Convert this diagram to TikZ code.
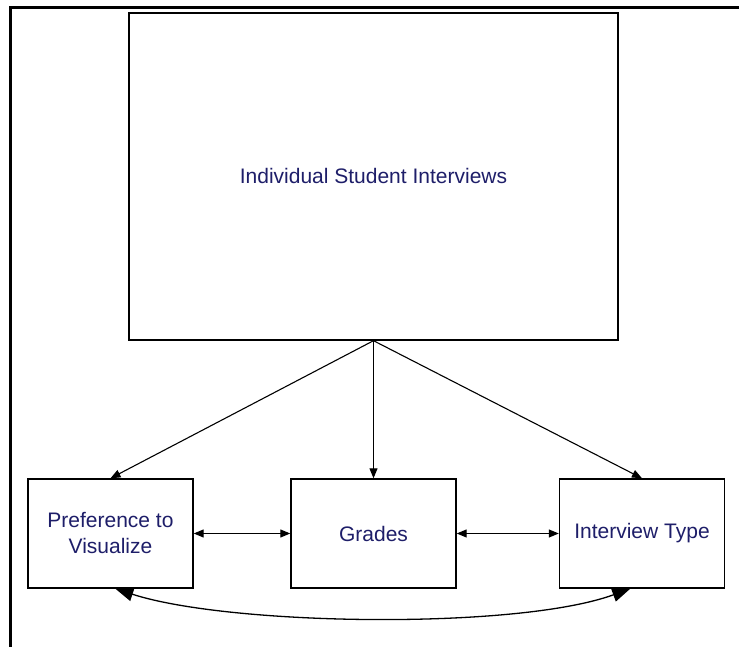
\documentclass[tikz,border=0pt]{standalone}
\usepackage{fontspec}
\setmainfont{Liberation Sans}
\usetikzlibrary{arrows.meta}
\definecolor{labelblue}{RGB}{30,30,105}
\tikzset{
  interviews/.style={
    x=1pt, y=1pt,
    every node/.style={draw, rectangle, line width=1.4pt, fill=white,
        minimum width=165pt, minimum height=109pt, inner sep=2pt,
        align=center, text=labelblue, font=\fontsize{21}{26}\selectfont},
    level 1/.style={sibling distance=265pt},
    level distance=357pt,
    edge from parent/.style={draw, line width=1.1pt, -{Triangle[length=10pt,width=8pt]}},
    edge from parent path={(\tikzparentnode.south) -- (\tikzchildnode.north)}
  },
  link/.style={line width=1.1pt, {Triangle[length=10pt,width=8pt]}-{Triangle[length=10pt,width=8pt]}},
  bow/.style={line width=1.3pt, {Triangle[length=18pt,width=14pt]}-{Triangle[length=18pt,width=14pt]}},
  frame/.style={line width=3pt}
}

\begin{document}
\begin{tikzpicture}[interviews]
        \useasboundingbox (0,0) rectangle (739,647);
        \draw[frame] (10,0) -- (10,639) -- (739,639);

        \node[minimum width=489pt, minimum height=327pt] (root) at (373.5,470.5) {Individual Student Interviews}
        child[xshift=2pt]{
            node (pref) {Preference to\\Visualize}
        }
        child{
            node (grades) {Grades}
        }
        child[xshift=3.5pt]{
            node (itype) {Interview Type}
        }
        ;

        \draw[link] (pref.east) -- (grades.west);
        \draw[link] (grades.east) -- (itype.west);
        \draw[bow] (pref.275) to[out=-18, in=-160, looseness=0.6] (itype.258);
      \end{tikzpicture}
\end{document}
